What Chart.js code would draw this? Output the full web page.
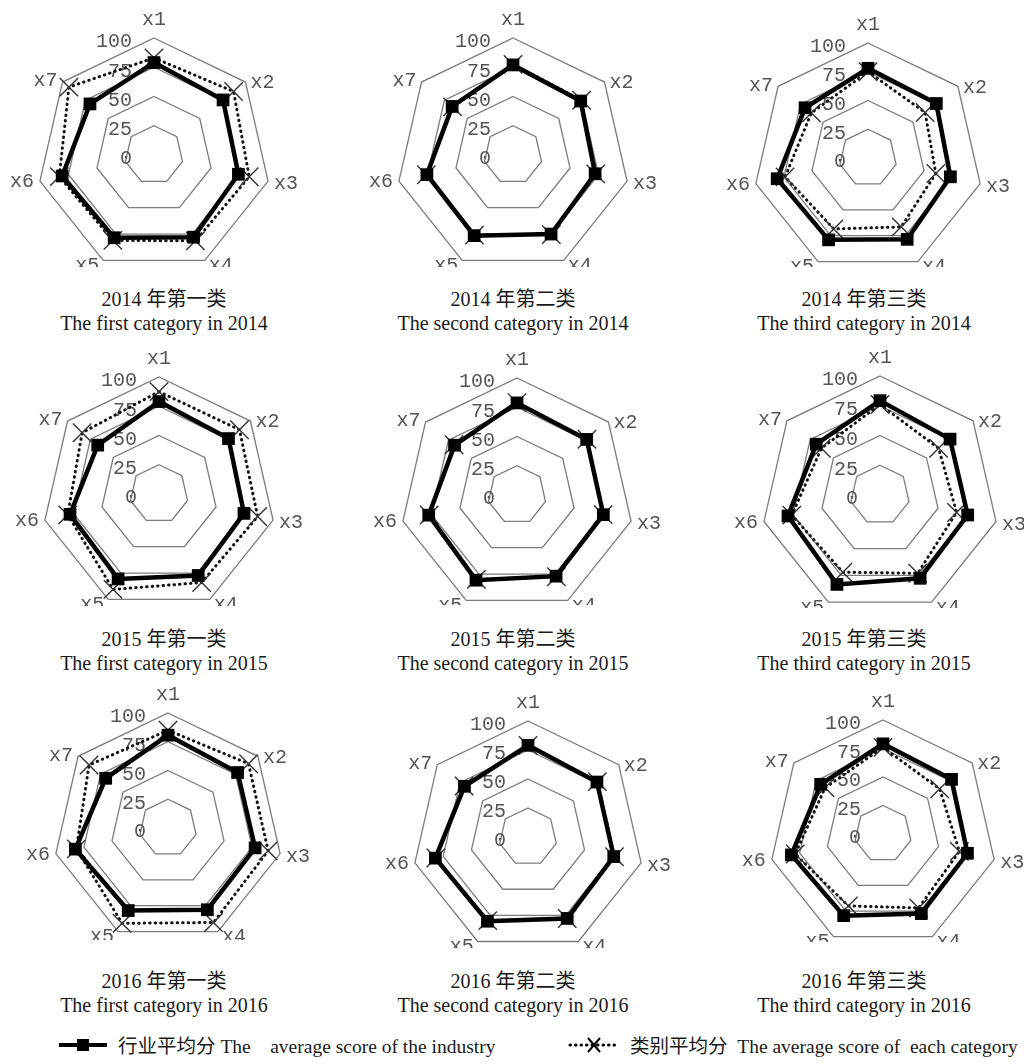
<!DOCTYPE html>
<html>
<head>
<meta charset="utf-8">
<script src="https://cdn.jsdelivr.net/npm/chart.js@4/dist/chart.umd.min.js"></script>
<style>
  html, body { margin: 0; padding: 0; background: #fff; }
  body { width: 1024px; height: 1064px; position: relative; overflow: hidden;
         font-family: "Liberation Serif", "Noto Sans CJK SC", serif; color: #1a1a1a; }
  .panel { position: absolute; overflow: hidden; }
  .panel canvas { position: absolute; left: 0; top: 0; }
  .cap { position: absolute; width: 360px; text-align: center; font-size: 20px; line-height: 24px; white-space: nowrap; }
  .legend { position: absolute; top: 1030px; font-size: 19.5px; white-space: nowrap; display: flex; align-items: center; }
  .legend svg { margin-right: 10px; }
</style>
</head>
<body>
<div id="root"></div>
<div class="legend" style="left:58px">
  <svg width="50" height="20"><line x1="1" y1="10" x2="49" y2="10" stroke="#000" stroke-width="4"/><rect x="19" y="4" width="12" height="12" fill="#000"/></svg>
  <span>行业平均分 The&nbsp;&nbsp;&nbsp;&nbsp;average score of the industry</span>
</div>
<div class="legend" style="left:568px">
  <svg width="52" height="20"><line x1="2" y1="10" x2="50" y2="10" stroke="#000" stroke-width="3" stroke-dasharray="0.5 5" stroke-linecap="round"/><line x1="20" y1="3" x2="32" y2="17" stroke="#000" stroke-width="2"/><line x1="32" y1="3" x2="20" y2="17" stroke="#000" stroke-width="2"/></svg>
  <span>类别平均分&nbsp;&nbsp;The average score of&nbsp;&nbsp;each category</span>
</div>
<script>
// Radar axes and scale ticks
const axisLabels = ['x1', 'x2', 'x3', 'x4', 'x5', 'x6', 'x7'];
const tickValues = [0, 25, 50, 75, 100];

// Caption parts
const years = ['2014', '2015', '2016'];
const classZh = ['一', '二', '三'];
const classEn = ['first', 'second', 'third'];

// Industry average score (行业平均分), per year and category
const industry2014c1 = [79, 75.5, 74, 78, 78.5, 80.5, 70];
const industry2014c2 = [77, 74, 72, 75, 76.5, 75.5, 66.5];
const industry2014c3 = [78, 76, 73.5, 78.5, 79, 81, 70];
const industry2015c1 = [79, 76, 74.5, 77.3, 80.6, 78, 67];
const industry2015c2 = [78.7, 76.2, 75.7, 77, 80.8, 77.4, 68.3];
const industry2015c3 = [79.3, 75.3, 75.6, 77.7, 83.4, 79.3, 68.5];
const industry2016c1 = [80.7, 77.4, 77.7, 78.9, 79.7, 82.6, 69.3];
const industry2016c2 = [79, 76, 75.8, 77.9, 80.6, 81.9, 70.1];
const industry2016c3 = [79.1, 76.9, 76, 77.5, 79.5, 82.4, 69.9];

// Category average score (类别平均分), per year and category
const category2014c1 = [83, 87, 83.5, 81.5, 81, 83, 93];
const category2014c2 = [77.5, 75, 72.5, 75.5, 76, 76, 66];
const category2014c3 = [75, 63.5, 60.5, 66.5, 68.5, 74, 63];
const category2015c1 = [87.5, 88, 86.5, 84, 90.5, 80, 84];
const category2015c2 = [79, 76.5, 75.5, 77.5, 80, 77, 68.8];
const category2015c3 = [76, 63, 66, 73, 72, 76, 63];
const category2016c1 = [85, 89.6, 89.3, 91.2, 92, 81.7, 87.8];
const category2016c2 = [79, 76.5, 76.5, 78, 80, 81.5, 70.5];
const category2016c3 = [76, 63.5, 68.7, 72, 70, 79, 65];

const industrySeries = [
  [industry2014c1, industry2014c2, industry2014c3],
  [industry2015c1, industry2015c2, industry2015c3],
  [industry2016c1, industry2016c2, industry2016c3]
];
const categorySeries = [
  [category2014c1, category2014c2, category2014c3],
  [category2015c1, category2015c2, category2015c3],
  [category2016c1, category2016c2, category2016c3]
];

// Panel layout: centre, radius of the 100 ring, bottom clip edge
const layout = [
  [{cx: 154, cy: 155.5, r: 117, clip: 267}, {cx: 513, cy: 155.5, r: 117, clip: 267}, {cx: 868, cy: 158, r: 115.5, clip: 267}],
  [{cx: 159, cy: 494.5, r: 117.5, clip: 606}, {cx: 517, cy: 495.5, r: 117.3, clip: 605}, {cx: 880, cy: 495, r: 119, clip: 608}],
  [{cx: 168, cy: 828.5, r: 115.6, clip: 940}, {cx: 528, cy: 837, r: 116, clip: 948}, {cx: 883, cy: 834, r: 114.6, clip: 942}]
];
const captionTop = [287, 627, 969];
const captionCx = [164, 513, 864];

// Where each axis name sits relative to its outer vertex
const labelOffsets = [
  {align: 'center', dx: 0, dy: -18},
  {align: 'left', dx: 5, dy: 1},
  {align: 'left', dx: 6, dy: 3},
  {align: 'left', dx: 4, dy: 5},
  {align: 'right', dx: -4, dy: 5},
  {align: 'right', dx: -6, dy: 1},
  {align: 'right', dx: -5, dy: -1}
];

const textFont = '20px "Liberation Mono", monospace';
const textColor = '#555';

const radarText = {
  id: 'radarText',
  beforeDatasetsDraw(chart) {
    const s = chart.scales.r;
    const ctx = chart.ctx;
    ctx.save();
    ctx.font = textFont;
    ctx.fillStyle = textColor;
    ctx.textAlign = 'right';
    ctx.textBaseline = 'middle';
    tickValues.forEach(v => {
      const d = s.getDistanceFromCenterForValue(v);
      ctx.fillText(String(v), s.xCenter - 22, s.yCenter - d + 4);
    });
    ctx.restore();
  },
  afterDraw(chart) {
    const s = chart.scales.r;
    const ctx = chart.ctx;
    ctx.save();
    ctx.font = textFont;
    ctx.fillStyle = textColor;
    ctx.textBaseline = 'middle';
    axisLabels.forEach((lab, i) => {
      const p = s.getPointPosition(i, s.drawingArea);
      const o = labelOffsets[i];
      ctx.textAlign = o.align;
      ctx.fillText(lab, p.x + o.dx, p.y + o.dy);
    });
    ctx.restore();
  }
};

const W = 360, H = 320;
const root = document.getElementById('root');

for (let row = 0; row < 3; row++) {
  for (let col = 0; col < 3; col++) {
    const g = layout[row][col];
    const left = Math.round(g.cx - W / 2);
    const top = Math.round(g.cy - H / 2);
    const box = document.createElement('div');
    box.className = 'panel';
    box.style.left = left + 'px';
    box.style.top = top + 'px';
    box.style.width = W + 'px';
    box.style.height = (g.clip - top) + 'px';
    const cv = document.createElement('canvas');
    cv.width = W; cv.height = H;
    box.appendChild(cv);
    root.appendChild(box);

    const padX = (g.cx - left) - g.r;
    const padY = (g.cy - top) - g.r;

    new Chart(cv, {
      type: 'radar',
      data: {
        labels: axisLabels,
        datasets: [
          {
            label: '行业平均分 The average score of the industry',
            data: industrySeries[row][col],
            borderColor: '#000',
            borderWidth: 4.5,
            backgroundColor: 'transparent',
            fill: false,
            pointStyle: 'rect',
            pointRadius: 9,
            pointBackgroundColor: '#000',
            pointBorderColor: '#000',
            pointBorderWidth: 0
          },
          {
            label: '类别平均分 The average score of each category',
            data: categorySeries[row][col],
            borderColor: '#111',
            borderWidth: 3,
            borderDash: [0.5, 5],
            borderCapStyle: 'round',
            backgroundColor: 'transparent',
            fill: false,
            pointStyle: 'crossRot',
            pointRadius: 13,
            pointBorderColor: '#333',
            pointBorderWidth: 1.4
          }
        ]
      },
      options: {
        responsive: false,
        animation: false,
        events: [],
        layout: { padding: { left: padX, right: W - 2 * g.r - padX, top: padY, bottom: H - 2 * g.r - padY } },
        plugins: { legend: { display: false }, tooltip: { enabled: false }, title: { display: false } },
        elements: { line: { tension: 0 } },
        scales: {
          r: {
            min: 0,
            max: 100,
            ticks: { display: false, stepSize: 25 },
            pointLabels: { display: false },
            angleLines: { display: false },
            grid: { color: '#7c7c7c', lineWidth: 1.3 }
          }
        }
      },
      plugins: [radarText]
    });
  }
  for (let col = 0; col < 3; col++) {
    const cap = document.createElement('div');
    cap.className = 'cap';
    cap.style.left = (captionCx[col] - 180) + 'px';
    cap.style.top = captionTop[row] + 'px';
    cap.innerHTML = years[row] + ' 年第' + classZh[col] + '类<br>The ' + classEn[col] + ' category in ' + years[row];
    root.appendChild(cap);
  }
}
</script>
</body>
</html>
